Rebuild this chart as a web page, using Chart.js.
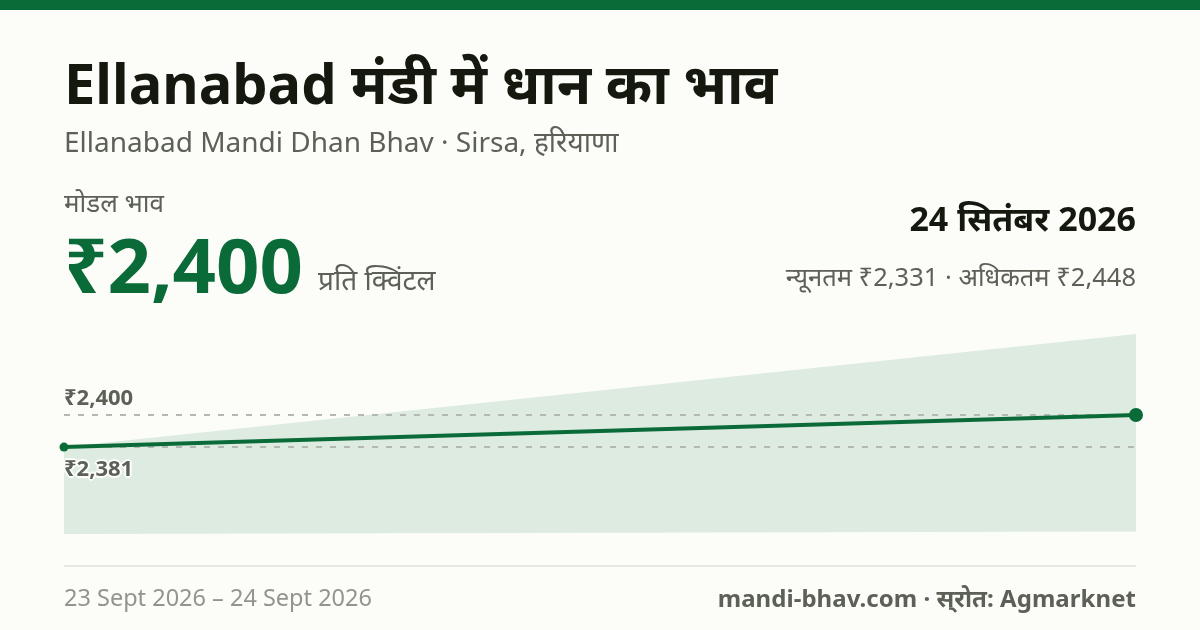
<!DOCTYPE html>
<html lang="hi">
<head>
<meta charset="utf-8">
<script src="https://cdn.jsdelivr.net/npm/chart.js@4"></script>
<style>
html,body{margin:0;padding:0;width:1200px;height:630px;overflow:hidden;background:#fcfdf9;font-family:"Noto Sans","Noto Sans Devanagari",sans-serif;}
#bar{position:absolute;left:0;top:0;width:1200px;height:10px;background:#0b6b38;}
canvas{position:absolute;left:0;top:0;}
.t{position:absolute;white-space:nowrap;line-height:1;}
#title{left:64px;top:54px;font-size:56px;font-weight:700;color:#14180f;}
#sub{left:64px;top:127px;font-size:28px;color:#5c6056;}
#mlabel{left:64px;top:189px;font-size:26px;color:#5c6056;}
#price{left:64px;top:226px;font-size:76px;font-weight:700;color:#0b6b38;}
#unit{left:318px;top:265px;font-size:28px;color:#5c6056;}
#date{right:64px;top:201px;font-size:34px;font-weight:700;color:#14180f;}
#range{right:64px;top:264px;font-size:25.5px;color:#5c6056;}
.lab{font-size:22px;font-weight:700;color:#5c6056;left:64px;}
#l1{top:385px;}
#l2{top:456px;text-shadow:0 0 2px #fff,0 0 2px #fff,2px 0 1px #fff,-2px 0 1px #fff,0 2px 1px #fff,0 -2px 1px #fff,1px 1px 1px #fff,-1px -1px 1px #fff,1px -1px 1px #fff,-1px 1px 1px #fff;}
#rule{position:absolute;left:64px;width:1072px;top:565px;height:2px;background:#e6e8e2;}
#foot1{left:64px;top:586px;font-size:23.5px;color:#92958d;}
#foot2{right:64px;top:586px;font-size:24px;font-weight:700;color:#5c6056;letter-spacing:0.05px;}
</style>
</head>
<body>
<div id="bar"></div>
<canvas id="c" width="1200" height="630"></canvas>
<div class="t" id="title">Ellanabad मंडी में धान का भाव</div>
<div class="t" id="sub">Ellanabad Mandi Dhan Bhav · Sirsa, हरियाणा</div>
<div class="t" id="mlabel">मोडल भाव</div>
<div class="t" id="price">₹2,400</div>
<div class="t" id="unit">प्रति क्विंटल</div>
<div class="t" id="date">24 सितंबर 2026</div>
<div class="t" id="range">न्यूनतम ₹2,331 · अधिकतम ₹2,448</div>
<div class="t lab" id="l1">₹2,400</div>
<div class="t lab" id="l2">₹2,381</div>
<div id="rule"></div>
<div class="t" id="foot1">23 Sept 2026 – 24 Sept 2026</div>
<div class="t" id="foot2">mandi-bhav.com · स्&zwnj;रोत: Agmarknet</div>
<script>
const dates = ["23 Sept 2026", "24 Sept 2026"];
const modalPrices = [2381, 2400];
const minPrices = [2329.5, 2331];
const maxPrices = [2381, 2448];
const refHigh = [2400, 2400];
const refLow = [2381, 2381];
const yMin = 2329.5;
const yMax = 2448;

new Chart(document.getElementById('c'), {
  type: 'line',
  data: {
    labels: dates,
    datasets: [
      {data: modalPrices, borderColor:'#0b6b38', borderWidth:4, tension:0, fill:false, order:0,
       pointRadius:[4.5,7], pointBackgroundColor:'#0b6b38', pointBorderWidth:0, clip:false},
      {data: refHigh, borderColor:'#b5b8b0', borderWidth:2, borderDash:[6,8], pointRadius:0, fill:false, order:1},
      {data: refLow, borderColor:'#b5b8b0', borderWidth:2, borderDash:[6,8], pointRadius:0, fill:false, order:1},
      {data: maxPrices, borderWidth:0, pointRadius:0, fill:'+1', backgroundColor:'rgba(11,107,56,0.12)', order:2},
      {data: minPrices, borderWidth:0, pointRadius:0, fill:false, order:3}
    ]
  },
  options: {
    responsive:false, animation:false, devicePixelRatio:1,
    layout:{padding:{left:64,right:64,top:334,bottom:96}},
    plugins:{legend:{display:false},tooltip:{enabled:false}},
    scales:{
      x:{display:false,offset:false},
      y:{display:false,min:yMin,max:yMax}
    }
  }
});
</script>
</body>
</html>
